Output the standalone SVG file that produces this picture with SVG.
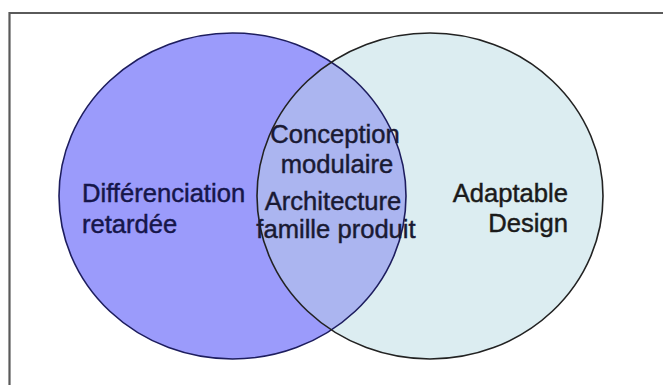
<svg xmlns="http://www.w3.org/2000/svg" width="663" height="385" viewBox="0 0 663 385">
<style>
.lbl{font-family:"Liberation Sans",Arial,sans-serif;font-size:25.6px;stroke-width:0.45px}
.frame{fill:none;stroke:#5a5a5a;stroke-width:2.2}
</style>
<defs>
<clipPath id="clipLeft"><ellipse cx="232.5" cy="196" rx="173.5" ry="163"/></clipPath>
</defs>
<rect width="663" height="385" fill="#ffffff"/>
<path class="frame" d="M9.5 385 V13 H663"/>
<g id="set-left">
<ellipse cx="232.5" cy="196" rx="173.5" ry="163" fill="#9b9bfb"/>
</g>
<g id="set-right">
<ellipse cx="430" cy="196" rx="173" ry="163" fill="#dcedf1"/>
</g>
<g id="overlap">
<ellipse cx="430" cy="196" rx="173" ry="163" fill="#abb5f0" clip-path="url(#clipLeft)"/>
</g>
<g id="outlines">
<ellipse cx="232.5" cy="196" rx="173.5" ry="163" fill="none" stroke="#1d1d5e" stroke-width="1.6"/>
<ellipse cx="430" cy="196" rx="173" ry="163" fill="none" stroke="#222" stroke-width="1.6"/>
</g>
<g id="label-left" class="lbl" fill="#16164a" stroke="#16164a">
<text x="82" y="202">Différenciation</text>
<text x="82" y="233">retardée</text>
</g>
<g id="label-middle" class="lbl" fill="#1a1a33" stroke="#1a1a33" text-anchor="middle">
<text x="335" y="143">Conception</text>
<text x="337" y="173">modulaire</text>
<text x="333" y="210">Architecture</text>
<text x="336" y="238">famille produit</text>
</g>
<g id="label-right" class="lbl" fill="#1a1a1a" stroke="#1a1a1a" text-anchor="end">
<text x="568" y="202">Adaptable</text>
<text x="568" y="232">Design</text>
</g>
</svg>
